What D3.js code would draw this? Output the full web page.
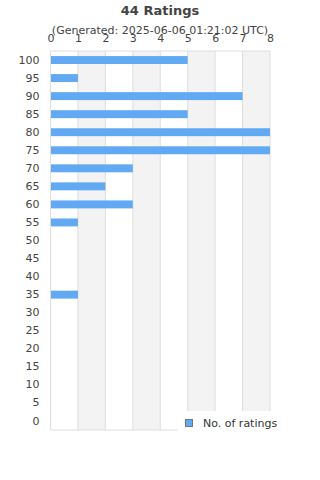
<!DOCTYPE html>
<html><head><meta charset="utf-8">
<script src="https://cdn.jsdelivr.net/npm/d3@7"></script>
<style>body{margin:0;background:#fff}svg{display:block;font-family:"DejaVu Sans",sans-serif}</style>
</head><body><svg id="c" width="320" height="480"></svg>
<script>
const categories = ["100","95","90","85","80","75","70","65","60","55","50","45","40","35","30","25","20","15","10","5","0"];
const ratings = [5,1,7,5,8,8,3,2,3,1,0,0,0,1,0,0,0,0,0,0,0];
const xTicks = [0,1,2,3,4,5,6,7,8];
const title = "44 Ratings";
const subtitle = "(Generated: 2025-06-06 01:21:02 UTC)";
const seriesName = "No. of ratings";

const svg = d3.select("#c");
const L = 50.5, R = 270, T = 51, B = 430;
const x = d3.scaleLinear().domain([0, 8]).range([L, R]);
const y = d3.scaleBand().domain(categories).range([T, B]).paddingInner(0.56).paddingOuter(0.28);

// alternating bands
const bands = xTicks.slice(0, -1).filter((d, i) => i % 2 === 1);
svg.append("g").selectAll("rect").data(bands).join("rect")
  .attr("x", d => x(d)).attr("y", T).attr("width", d => x(d + 1) - x(d)).attr("height", B - T)
  .attr("fill", "#f3f3f3");
// grid lines
svg.append("g").selectAll("line").data(xTicks).join("line")
  .attr("x1", d => x(d)).attr("x2", d => x(d)).attr("y1", T).attr("y2", B)
  .attr("stroke", "#dedede").attr("stroke-width", 1);
svg.append("line").attr("x1", L).attr("x2", R).attr("y1", T).attr("y2", T).attr("stroke", "#dedede");
svg.append("line").attr("x1", L).attr("x2", R).attr("y1", B).attr("y2", B).attr("stroke", "#dedede");

// bars
svg.append("g").selectAll("rect").data(ratings.map((v, i) => ({v, c: categories[i]}))).join("rect")
  .attr("x", x(0) + 0.5).attr("y", d => y(d.c)).attr("height", y.bandwidth())
  .attr("width", d => Math.max(0, x(d.v) - x(0) - 0.5))
  .attr("fill", "#62a9f4");

// top axis
const xa = svg.append("g").attr("transform", `translate(0,${T - 9})`)
  .call(d3.axisTop(x).tickValues(xTicks).tickSize(0).tickPadding(0).tickFormat(d3.format("d")));
xa.select(".domain").remove();
xa.selectAll("text").attr("font-size", 11).attr("fill", "#444").attr("font-family", "DejaVu Sans");

// left axis
const ya = svg.append("g").attr("transform", `translate(${L - 11},0)`)
  .call(d3.axisLeft(y).tickSize(0).tickPadding(0));
ya.select(".domain").remove();
ya.selectAll("text").attr("font-size", 11).attr("fill", "#444").attr("font-family", "DejaVu Sans");

// title
svg.append("text").attr("x", 160).attr("y", 15).attr("text-anchor", "middle")
  .attr("font-size", 13).attr("font-weight", "bold").attr("fill", "#444").text(title);
svg.append("text").attr("x", 160).attr("y", 34).attr("text-anchor", "middle")
  .attr("font-size", 11).attr("fill", "#444").text(subtitle);

// legend
const lg = svg.append("g");
lg.append("rect").attr("x", 178).attr("y", 411).attr("width", 142).attr("height", 22).attr("fill", "#fff");
lg.append("rect").attr("x", 185.5).attr("y", 419.5).attr("width", 7).attr("height", 7)
  .attr("fill", "#62a9f4").attr("stroke", "#777").attr("stroke-width", 1);
lg.append("text").attr("x", 203).attr("y", 426.5).attr("font-size", 11).attr("fill", "#333").text(seriesName);
</script></body></html>
